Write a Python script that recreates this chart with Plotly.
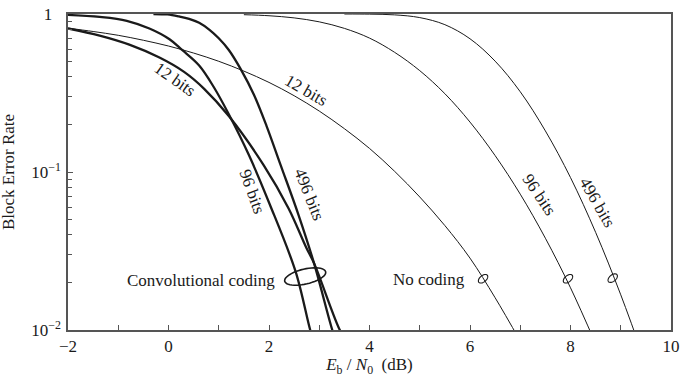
import math
import plotly.graph_objects as go

# ---------------- data ----------------
# Convolutional coding (thick curves)
x_conv_12 = [-2.0, -1.37, -0.78, -0.18, 0.31, 0.71, 1.2, 1.89, 2.39, 2.74, 2.9, 3.41, 3.5]
y_conv_12 = [0.81, 0.73, 0.64, 0.53, 0.43, 0.336, 0.226, 0.111, 0.0588, 0.0333, 0.0263, 0.01, 0.0091]

x_conv_96 = [-2.0, -1.37, -0.83, -0.38, 0.02, 0.27, 0.61, 0.9, 1.2, 1.6, 2.01, 2.53, 2.82, 2.88]
y_conv_96 = [0.986, 0.958, 0.906, 0.809, 0.692, 0.592, 0.472, 0.345, 0.232, 0.128, 0.063, 0.0234, 0.01, 0.0088]

x_conv_496 = [-0.3, -0.02, 0.21, 0.41, 0.61, 0.81, 1.0, 1.2, 1.44, 1.7, 1.95, 2.23, 2.59, 2.9, 3.26, 3.32]
y_conv_496 = [1.0, 0.993, 0.965, 0.932, 0.88, 0.797, 0.702, 0.592, 0.446, 0.308, 0.196, 0.111, 0.0532, 0.0262, 0.01, 0.0089]

# No coding (thin curves)
x_unc_12 = [-2, -1.5, -1, -0.5, 0, 0.5, 1, 1.5, 2, 2.5, 3, 3.5, 4, 4.5, 5, 5.5, 6, 6.5, 7]
y_unc_12 = [0.814, 0.775, 0.733, 0.682, 0.627, 0.566, 0.502, 0.435, 0.369, 0.304, 0.243, 0.188,
            0.141, 0.101, 0.0695, 0.0458, 0.0285, 0.0160, 0.0085]

x_unc_96 = [1.5, 2, 2.5, 3, 3.5, 4, 4.5, 5, 5.5, 6, 6.5, 7, 7.5, 8, 8.5]
y_unc_96 = [0.990, 0.975, 0.945, 0.892, 0.811, 0.704, 0.572, 0.438, 0.313, 0.207, 0.127,
            0.0724, 0.0381, 0.0185, 0.0082]

x_unc_496 = [3.5, 4, 4.5, 5, 5.5, 6, 6.5, 7, 7.5, 8, 8.5, 9, 9.5]
y_unc_496 = [0.9998, 0.998, 0.9875, 0.949, 0.856, 0.697, 0.503, 0.322, 0.182, 0.0922, 0.0415,
             0.0167, 0.0061]

# axis ticks
x_tickvals = [-2, 0, 2, 4, 6, 8, 10]
x_ticktext = ["\u22122", "0", "2", "4", "6", "8", "10"]
y_tickvals = [0.01, 0.1, 1]
y_ticktext = ["10<sup>\u22122</sup>", "10<sup>\u22121</sup>", "1\u2007"]
y_minor = [m * 10 ** e for e in (-2, -1) for m in range(2, 10)]

# curve labels: (text, x, y, angle)
curve_labels = [
    ("12 bits", 0.13, 0.385, 35),
    ("12 bits", 2.74, 0.327, 30),
    ("96 bits", 1.66, 0.075, 70),
    ("496 bits", 2.8, 0.072, 68),
    ("96 bits", 7.37, 0.0716, 56),
    ("496 bits", 8.53, 0.064, 60),
]
group_labels = [
    ("Convolutional coding", 2.16, 0.0205),
    ("No coding", 5.94, 0.021),
]
# ellipse markers: (x, y, rx px, ry px, angle deg)
ellipses = [
    (2.72, 0.0218, 21, 7.5, 13),
    (6.26, 0.0211, 5.5, 3.2, 40),
    (7.95, 0.0211, 5.5, 3.2, 40),
    (8.84, 0.0213, 5.5, 3.2, 40),
]

FONT = "Liberation Serif"
INK = "#1a1a1a"
FS = 17

fig = go.Figure()
for xs, ys in [(x_conv_12, y_conv_12), (x_conv_96, y_conv_96), (x_conv_496, y_conv_496)]:
    fig.add_trace(go.Scatter(x=xs, y=ys, mode="lines",
                             line=dict(color=INK, width=2.3, shape="spline", smoothing=1.0),
                             hoverinfo="skip"))
for xs, ys in [(x_unc_12, y_unc_12), (x_unc_96, y_unc_96), (x_unc_496, y_unc_496)]:
    fig.add_trace(go.Scatter(x=xs, y=ys, mode="lines",
                             line=dict(color=INK, width=1.0, shape="spline", smoothing=1.0),
                             hoverinfo="skip"))

for text, x, y, ang in curve_labels:
    fig.add_annotation(x=x, y=math.log10(y), xref="x", yref="y", text=text, showarrow=False,
                       textangle=ang, font=dict(family=FONT, size=FS, color=INK))
for text, x, y in group_labels:
    fig.add_annotation(x=x, y=math.log10(y), xref="x", yref="y", text=text, showarrow=False,
                       xanchor="right", font=dict(family=FONT, size=FS, color=INK))

# y-axis title
fig.add_annotation(x=0, y=0.5, xref="paper", yref="paper", xshift=-60, text="Block Error Rate",
                   textangle=-90, showarrow=False, xanchor="center", yanchor="middle",
                   font=dict(family=FONT, size=FS, color=INK))


def ellipse_path(rx, ry, ang):
    a = math.radians(ang)
    pts = []
    for i in range(49):
        t = 2 * math.pi * i / 48
        px = rx * math.cos(t)
        py = ry * math.sin(t)
        X = px * math.cos(a) - py * math.sin(a)
        Y = px * math.sin(a) + py * math.cos(a)
        pts.append(f"{X:.2f},{Y:.2f}")
    return "M" + " L".join(pts) + " Z"


for x, y, rx, ry, ang in ellipses:
    fig.add_shape(type="path", xref="x", yref="y", xsizemode="pixel", ysizemode="pixel",
                  xanchor=x, yanchor=y, path=ellipse_path(rx, ry, ang),
                  line=dict(color=INK, width=1.6 if rx > 10 else 1.1))

axis_col = "#555555"
fig.update_xaxes(range=[-2, 10], tickvals=x_tickvals, ticktext=x_ticktext,
                 ticks="inside", ticklen=5, tickcolor=axis_col, tickwidth=1,
                 minor=dict(dtick=1, tick0=-2, ticks="inside", ticklen=5, tickcolor=axis_col),
                 showline=True, linecolor=axis_col, linewidth=1.5, mirror=True,
                 showgrid=False, zeroline=False, ticklabeloverflow="allow",
                 tickfont=dict(family=FONT, size=FS, color=INK),
                 title=dict(text="<i>E</i><sub>b</sub> / <i>N</i><sub>0</sub>  (dB)",
                            font=dict(family=FONT, size=FS, color=INK), standoff=0))
fig.update_yaxes(type="log", range=[-2, 0], tickvals=y_tickvals, ticktext=y_ticktext,
                 ticks="inside", ticklen=5, tickcolor=axis_col,
                 minor=dict(tickvals=y_minor, ticks="inside", ticklen=4, tickcolor=axis_col),
                 showline=True, linecolor=axis_col, linewidth=1.5, mirror=True,
                 showgrid=False, zeroline=False, ticklabelstandoff=2, ticklabeloverflow="allow",
                 tickfont=dict(family=FONT, size=FS, color=INK))

fig.update_layout(width=685, height=377, margin=dict(l=68, r=10, t=5, b=47),
                  paper_bgcolor="white", plot_bgcolor="white", showlegend=False)

fig.write_html("out.html", config={"displayModeBar": False},
               post_script="document.body.style.margin='0px';document.body.style.padding='0px';")
